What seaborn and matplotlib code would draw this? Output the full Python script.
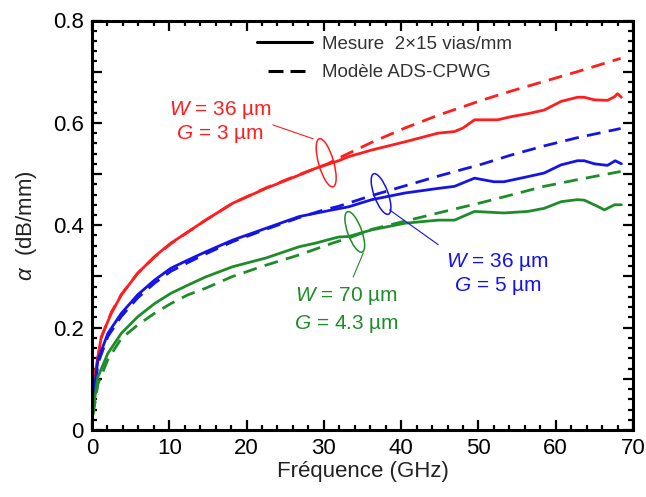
import numpy as np
import pandas as pd
import matplotlib
matplotlib.use("Agg")
import matplotlib.pyplot as plt
import matplotlib.transforms as mtransforms
from matplotlib.patches import Ellipse
from matplotlib.lines import Line2D
from matplotlib.ticker import MultipleLocator, FuncFormatter
import seaborn as sns

# ---------------- data ----------------
red_meas_f = [0.15, 0.4, 1.2, 2.5, 3.8, 5.9, 8.1, 10.2, 12.4, 14.7, 18.2, 22.5, 26.8, 28.9,
              31.9, 33.2, 36.2, 40.5, 44.8, 46.9, 48.0, 49.5, 52.5, 54.2, 56.4, 58.5, 60.7,
              62.8, 63.7, 65.0, 66.7, 67.6, 68.0, 68.5]
red_meas_a = [0.06, 0.11, 0.182, 0.228, 0.264, 0.306, 0.339, 0.365, 0.387, 0.41, 0.443, 0.472,
              0.498, 0.511, 0.526, 0.534, 0.547, 0.563, 0.58, 0.583, 0.59, 0.606, 0.606, 0.612,
              0.618, 0.625, 0.642, 0.65, 0.65, 0.645, 0.644, 0.651, 0.657, 0.65]
red_model_f = [0.15, 0.4, 1.2, 2.5, 3.8, 5.9, 8.1, 10.2, 14.7, 18.2, 22.5, 26.8, 30.5, 31.9,
               36.2, 40.5, 44.8, 50.6, 54.2, 58.5, 62.8, 68.4]
red_model_a = [0.05, 0.11, 0.18, 0.23, 0.265, 0.306, 0.338, 0.364, 0.41, 0.443, 0.473, 0.499,
               0.52, 0.531, 0.562, 0.59, 0.615, 0.645, 0.662, 0.681, 0.70, 0.726]

blue_meas_f = [0.15, 0.77, 2.06, 3.8, 5.9, 8.1, 10.2, 12.4, 14.7, 18.2, 22.5, 26.8, 31.1, 33.2,
               36.2, 40.5, 44.8, 46.9, 49.5, 52.0, 53.3, 56.4, 58.5, 60.7, 62.8, 63.7, 65.0,
               66.7, 67.7, 68.5]
blue_meas_a = [0.06, 0.137, 0.189, 0.228, 0.264, 0.293, 0.316, 0.332, 0.348, 0.371, 0.394,
               0.417, 0.43, 0.436, 0.45, 0.463, 0.472, 0.476, 0.492, 0.485, 0.485, 0.495,
               0.502, 0.518, 0.526, 0.526, 0.52, 0.517, 0.526, 0.52]
blue_model_f = [0.15, 0.77, 2.06, 3.8, 5.9, 8.1, 10.2, 12.4, 14.7, 18.2, 22.5, 26.8, 30.0,
                31.9, 36.2, 40.5, 44.8, 50.6, 54.2, 58.5, 62.8, 68.4]
blue_model_a = [0.05, 0.13, 0.183, 0.222, 0.258, 0.287, 0.31, 0.327, 0.344, 0.368, 0.392,
                0.415, 0.43, 0.437, 0.458, 0.477, 0.496, 0.52, 0.537, 0.555, 0.571, 0.589]

green_meas_f = [0.15, 0.77, 2.06, 3.8, 5.9, 8.1, 10.2, 12.4, 14.7, 18.2, 22.5, 26.8, 28.9,
                31.9, 33.2, 36.2, 40.5, 44.8, 46.9, 49.5, 53.3, 56.4, 58.5, 60.7, 62.8, 63.7,
                65.4, 66.3, 67.6, 68.5]
green_meas_a = [0.04, 0.104, 0.15, 0.189, 0.221, 0.247, 0.267, 0.283, 0.299, 0.319, 0.336,
                0.358, 0.365, 0.377, 0.378, 0.391, 0.404, 0.41, 0.41, 0.427, 0.424, 0.427,
                0.433, 0.446, 0.45, 0.449, 0.437, 0.43, 0.44, 0.44]
green_model_f = [0.15, 0.77, 2.06, 3.8, 5.9, 8.1, 10.2, 12.4, 14.7, 18.2, 22.5, 26.8, 31.1,
                 33.2, 36.2, 40.5, 44.8, 50.6, 54.2, 58.5, 62.8, 68.4]
green_model_a = [0.03, 0.09, 0.138, 0.179, 0.205, 0.228, 0.247, 0.264, 0.277, 0.3, 0.322,
                 0.342, 0.365, 0.375, 0.392, 0.408, 0.424, 0.445, 0.459, 0.476, 0.489, 0.505]

legend_labels = ["Mesure  2\u00d715 vias/mm", "Mod\u00e8le ADS-CPWG"]
annot_red = ["$W$ = 36 \u00b5m", "$G$ = 3 \u00b5m"]
annot_blue = ["$W$ = 36 \u00b5m", "$G$ = 5 \u00b5m"]
annot_green = ["$W$ = 70 \u00b5m", "$G$ = 4.3 \u00b5m"]

RED, BLUE, GREEN = "#ff1e1e", "#1414e6", "#1f8c2a"

# ---------------- figure ----------------
sns.set_style("ticks")
plt.rcParams["font.family"] = ["Liberation Sans", "DejaVu Sans"]
plt.rcParams["mathtext.fontset"] = "custom"
plt.rcParams["mathtext.it"] = "Liberation Sans:italic"
plt.rcParams["mathtext.rm"] = "Liberation Sans"

fig = plt.figure(figsize=(6.46, 4.97), dpi=100)
ax = fig.add_axes([92 / 646, 1 - 430 / 497, (633 - 92) / 646, (430 - 20.5) / 497])

series = [
    (red_meas_f, red_meas_a, RED, "-"),
    (red_model_f, red_model_a, RED, "--"),
    (blue_meas_f, blue_meas_a, BLUE, "-"),
    (blue_model_f, blue_model_a, BLUE, "--"),
    (green_meas_f, green_meas_a, GREEN, "-"),
    (green_model_f, green_model_a, GREEN, "--"),
]
for f, a, c, ls in series:
    df = pd.DataFrame({"f": f, "a": a})
    sns.lineplot(data=df, x="f", y="a", ax=ax, color=c, lw=2.0, sort=False,
                 estimator=None, legend=False)
    line = ax.lines[-1]
    if ls == "--":
        line.set_dashes((5, 3))

ax.set_xlim(0, 70)
ax.set_ylim(0, 0.8)
ax.xaxis.set_major_locator(MultipleLocator(10))
ax.xaxis.set_minor_locator(MultipleLocator(2))
ax.yaxis.set_major_locator(MultipleLocator(0.1))
ax.yaxis.set_minor_locator(MultipleLocator(0.02))


def yfmt(v, pos):
    k = int(round(v * 10))
    if k % 2:
        return ""
    if k == 0:
        return "0"
    return f"{v:.1f}"


ax.yaxis.set_major_formatter(FuncFormatter(yfmt))
ax.tick_params(which="both", direction="in", top=True, right=True, width=1.6,
               labelsize=16, colors="black")
ax.tick_params(which="major", length=7, pad=6)
ax.tick_params(which="minor", length=3.5)
for sp in ax.spines.values():
    sp.set_linewidth(2.2)
    sp.set_color("black")

ax.set_xlabel("Fr\u00e9quence (GHz)", fontsize=16, color="#222222", labelpad=1)
ax.set_ylabel("$\\alpha$  (dB/mm)", fontsize=16, color="#222222", labelpad=10)

# legend
handles = [Line2D([], [], color="black", lw=2.2),
           Line2D([], [], color="black", lw=2.2,
                  linestyle=(0, (0.01, 3.6, 4.9, 2.3, 4.9, 20)))]
ax.legend(handles, legend_labels, loc="upper left", bbox_to_anchor=(0.305, 0.963),
          frameon=False, fontsize=13.5, handlelength=2.93, handletextpad=0.53,
          labelcolor="#333333", borderaxespad=0, borderpad=0, labelspacing=0.61)


# annotations
def label(lines, x, y, color):
    for t, yy in zip(lines, y):
        ax.text(x, yy, t, color=color, fontsize=15, ha="center", va="center")


label(annot_red, 16.6, [0.625, 0.579], RED)
label(annot_blue, 52.5, [0.329, 0.281], BLUE)
label(annot_green, 32.9, [0.261, 0.208], GREEN)

ax.plot([23.4, 28.6], [0.596, 0.569], color=RED, lw=0.8)
ax.plot([38.5, 44.8], [0.43, 0.362], color=BLUE, lw=0.8)
ax.plot([35.1, 33.8], [0.346, 0.299], color=GREEN, lw=0.8)


def ring(cx, cy, w, h, ang, color):
    tr = fig.dpi_scale_trans + mtransforms.ScaledTranslation(cx, cy, ax.transData)
    e = Ellipse((0, 0), w / 100, h / 100, angle=ang, transform=tr, fill=False,
                edgecolor=color, lw=1.1)
    ax.add_patch(e)


ring(30.3, 0.522, 15, 50, 16, RED)
ring(37.4, 0.461, 14, 43, 20, BLUE)
ring(34.0, 0.387, 14, 43, 20, GREEN)

fig.savefig("out.png", dpi=100)
